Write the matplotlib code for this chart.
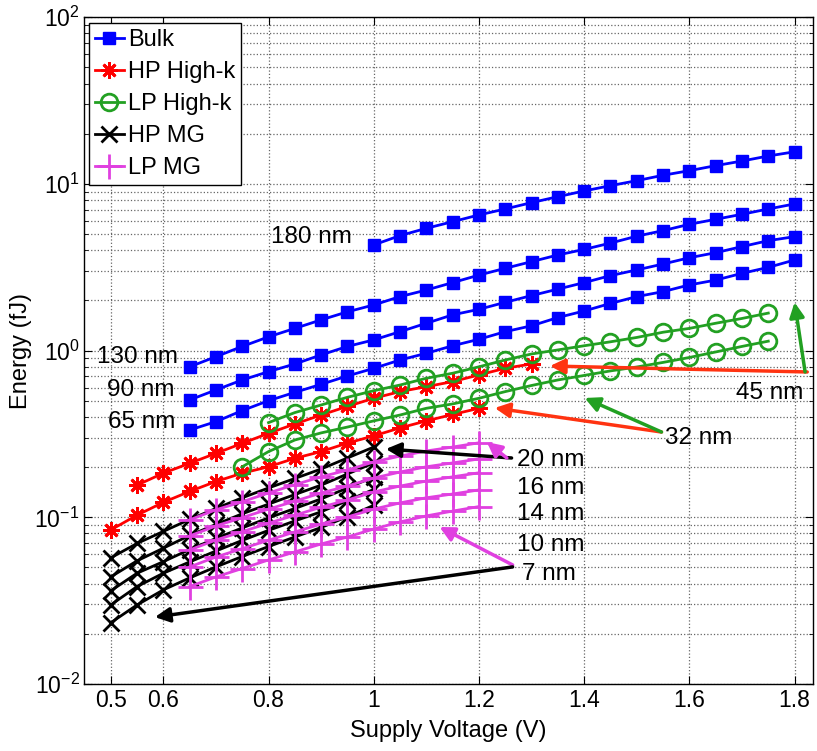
import matplotlib
matplotlib.use("Agg")
import matplotlib.pyplot as plt
from matplotlib.ticker import FixedLocator, LogLocator, NullFormatter

plt.rcParams["font.family"] = ["Liberation Sans", "DejaVu Sans"]
plt.rcParams["mathtext.fontset"] = "custom"
plt.rcParams["mathtext.rm"] = "Liberation Sans"
plt.rcParams["mathtext.default"] = "regular"
plt.rcParams["axes.unicode_minus"] = False

# supply voltage grid (V)
V = [0.50, 0.55, 0.60, 0.65, 0.70, 0.75, 0.80, 0.85, 0.90, 0.95, 1.00, 1.05, 1.10, 1.15,
     1.20, 1.25, 1.30, 1.35, 1.40, 1.45, 1.50, 1.55, 1.60, 1.65, 1.70, 1.75, 1.80]

# energy per operation (fJ)
bulk_180 = [4.31, 4.90, 5.42, 5.94, 6.52, 7.08, 7.73, 8.39, 9.08, 9.77, 10.47, 11.28,
            12.02, 12.88, 13.73, 14.72, 15.6]
bulk_130 = [0.80, 0.92, 1.06, 1.21, 1.36, 1.53, 1.71, 1.88, 2.11, 2.31, 2.56, 2.84,
            3.12, 3.42, 3.75, 4.05, 4.42, 4.86, 5.25, 5.73, 6.14, 6.58, 7.08, 7.59]
bulk_90 = [0.506, 0.581, 0.667, 0.748, 0.832, 0.943, 1.06, 1.16, 1.30, 1.46, 1.64, 1.77,
           1.95, 2.14, 2.34, 2.56, 2.82, 3.05, 3.31, 3.61, 3.87, 4.21, 4.57, 4.83]
bulk_65 = [0.334, 0.375, 0.437, 0.501, 0.562, 0.628, 0.705, 0.783, 0.879, 0.964, 1.07, 1.17,
           1.30, 1.41, 1.58, 1.73, 1.92, 2.11, 2.26, 2.48, 2.65, 2.91, 3.16, 3.50]

hp_hk_45 = [0.156, 0.184, 0.211, 0.242, 0.278, 0.319, 0.363, 0.411, 0.463, 0.518, 0.568,
            0.608, 0.652, 0.715, 0.784, 0.832]
hp_hk_32 = [0.084, 0.103, 0.123, 0.143, 0.164, 0.184, 0.201, 0.226, 0.248, 0.279, 0.308,
            0.344, 0.379, 0.414, 0.451]

lp_hk_45 = [0.370, 0.425, 0.472, 0.525, 0.575, 0.622, 0.683, 0.732, 0.800, 0.879, 0.955,
            1.01, 1.07, 1.13, 1.20, 1.29, 1.36, 1.46, 1.56, 1.68]
lp_hk_32 = [0.201, 0.248, 0.291, 0.321, 0.348, 0.379, 0.411, 0.451, 0.479, 0.518, 0.568,
            0.618, 0.667, 0.710, 0.756, 0.798, 0.850, 0.910, 0.982, 1.06, 1.14]

hp_mg = [
    [0.0571, 0.0697, 0.0823, 0.0971, 0.113, 0.131, 0.150, 0.171, 0.195, 0.227, 0.264],   # 20 nm
    [0.0439, 0.0548, 0.0653, 0.0779, 0.0906, 0.105, 0.120, 0.137, 0.156, 0.182, 0.212],  # 16 nm
    [0.0362, 0.0462, 0.0542, 0.0641, 0.0747, 0.0864, 0.0992, 0.113, 0.129, 0.150, 0.175],  # 14 nm
    [0.0298, 0.0384, 0.0462, 0.0540, 0.0628, 0.0727, 0.0835, 0.0951, 0.108, 0.126, 0.147],  # 10 nm
    [0.0233, 0.0298, 0.0367, 0.0433, 0.0504, 0.0582, 0.0668, 0.0762, 0.0869, 0.101, 0.118],  # 7 nm
]
lp_mg = [
    [0.0965, 0.111, 0.124, 0.140, 0.157, 0.175, 0.192, 0.215, 0.233, 0.250, 0.264, 0.280],
    [0.0773, 0.0888, 0.0996, 0.112, 0.125, 0.140, 0.154, 0.172, 0.187, 0.201, 0.212, 0.224],
    [0.0637, 0.0731, 0.0820, 0.0922, 0.103, 0.115, 0.127, 0.142, 0.154, 0.165, 0.175, 0.185],
    [0.0504, 0.0578, 0.0649, 0.0729, 0.0817, 0.0912, 0.1005, 0.112, 0.122, 0.131, 0.138, 0.146],
    [0.0384, 0.0439, 0.0493, 0.0555, 0.0620, 0.0692, 0.0762, 0.0851, 0.0938, 0.102, 0.109, 0.116],
]

BLUE = "#0000ff"
RED = "#ff0000"
GREEN = "#22a022"
BLACK = "#000000"
MAGENTA = "#e040e0"
ARROW_RED = "#ff3311"

fig = plt.figure(figsize=(8.17, 7.51), dpi=100)
ax = fig.add_axes([84.4 / 817, 1 - 684 / 751, (813 - 84.4) / 817, (684 - 17.3) / 751])

lw = 2.0
# bulk CMOS
for i, e in enumerate([bulk_180, bulk_130, bulk_90, bulk_65]):
    x = V[-len(e):]
    ax.plot(x, e, "-", color=BLUE, lw=lw, marker="s", ms=8, mec=BLUE, mfc=BLUE,
            label="Bulk" if i == 0 else None)
# high-performance high-k
for i, (start, e) in enumerate([(1, hp_hk_45), (0, hp_hk_32)]):
    ax.plot(V[start:start + len(e)], e, "-", color=RED, lw=lw, marker=(8, 2, 0), ms=12,
            mew=2, label="HP High-k" if i == 0 else None)
# low-power high-k
for i, (start, e) in enumerate([(6, lp_hk_45), (5, lp_hk_32)]):
    ax.plot(V[start:start + len(e)], e, "-", color=GREEN, lw=lw, marker="o", ms=12,
            mew=2, mfc="none", label="LP High-k" if i == 0 else None)
# high-performance metal gate
for i, e in enumerate(hp_mg):
    ax.plot(V[:len(e)], e, "-", color=BLACK, lw=lw, marker="x", ms=11, mew=2,
            label="HP MG" if i == 0 else None)
# low-power metal gate
for i, e in enumerate(lp_mg):
    ax.plot(V[3:3 + len(e)], e, "-", color=MAGENTA, lw=lw, marker="+", ms=18, mew=2,
            label="LP MG" if i == 0 else None)

ax.set_yscale("log")
ax.set_xlim(0.45, 1.835)
ax.set_ylim(1e-2, 1e2)
ax.xaxis.set_major_locator(FixedLocator([0.5, 0.6, 0.8, 1.0, 1.2, 1.4, 1.6, 1.8]))
ax.set_xticklabels(["0.5", "0.6", "0.8", "1", "1.2", "1.4", "1.6", "1.8"])
ax.yaxis.set_major_locator(LogLocator(base=10, numticks=10))
ax.yaxis.set_minor_locator(LogLocator(base=10, subs=range(2, 10), numticks=20))
ax.yaxis.set_minor_formatter(NullFormatter())

ax.grid(True, which="major", axis="both", linestyle=":", color="0.4", lw=0.9)
ax.grid(True, which="minor", axis="y", linestyle=":", color="0.4", lw=0.9)
ax.tick_params(which="both", direction="in", top=True, right=True, labelsize=16.5)
ax.tick_params(which="major", length=6)
ax.tick_params(which="minor", length=3)
for s in ax.spines.values():
    s.set_linewidth(1.0)

ax.set_xlabel("Supply Voltage (V)", fontsize=17, labelpad=6)
ax.set_ylabel("Energy (fJ)", fontsize=17, labelpad=2)

leg = ax.legend(loc="upper left", bbox_to_anchor=(0.006, 0.991), borderaxespad=0,
                fontsize=17, handlelength=1.25, handletextpad=0.15, labelspacing=0.42,
                borderpad=0.25, fancybox=False, framealpha=1, edgecolor="black")
leg.get_frame().set_linewidth(1.0)

# node labels
tfs = 17.5
ax.text(0.959, 4.81, "180 nm", fontsize=tfs, ha="right", va="center")
ax.text(0.628, 0.917, "130 nm", fontsize=tfs, ha="right", va="center")
ax.text(0.622, 0.581, "90 nm", fontsize=tfs, ha="right", va="center")
ax.text(0.622, 0.373, "65 nm", fontsize=tfs, ha="right", va="center")
ax.text(1.688, 0.557, "45 nm", fontsize=tfs, ha="left", va="center")
ax.text(1.553, 0.299, "32 nm", fontsize=tfs, ha="left", va="center")
ax.text(1.272, 0.221, "20 nm", fontsize=tfs, ha="left", va="center")
ax.text(1.272, 0.150, "16 nm", fontsize=tfs, ha="left", va="center")
ax.text(1.272, 0.105, "14 nm", fontsize=tfs, ha="left", va="center")
ax.text(1.272, 0.0683, "10 nm", fontsize=tfs, ha="left", va="center")
ax.text(1.281, 0.0457, "7 nm", fontsize=tfs, ha="left", va="center")


def arrow(tail, head, color):
    ax.annotate("", xy=head, xytext=tail,
                arrowprops=dict(arrowstyle="-|>", color=color, lw=2.5,
                                mutation_scale=22, shrinkA=0, shrinkB=0))


arrow((1.824, 0.745), (1.335, 0.809), ARROW_RED)
arrow((1.820, 0.745), (1.800, 1.95), GREEN)
arrow((1.547, 0.325), (1.230, 0.453), ARROW_RED)
arrow((1.547, 0.325), (1.401, 0.520), GREEN)
arrow((1.262, 0.227), (1.023, 0.257), BLACK)
arrow((1.253, 0.227), (1.215, 0.283), MAGENTA)
arrow((1.264, 0.0518), (1.125, 0.0875), MAGENTA)
arrow((1.264, 0.0504), (0.584, 0.0252), BLACK)

fig.savefig("out.png", dpi=100)
